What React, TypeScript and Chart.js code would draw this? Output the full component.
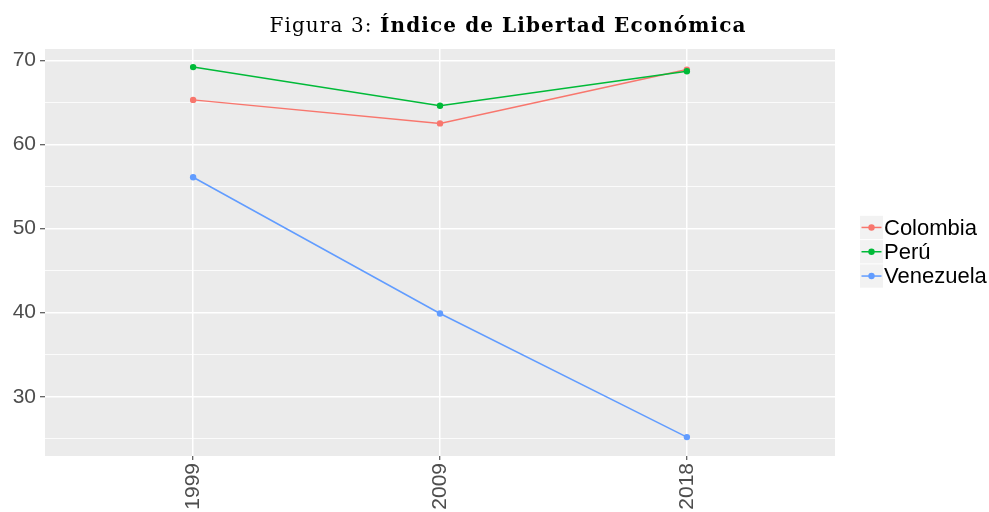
import React, { useEffect, useRef } from 'react';
import { Chart, registerables } from 'chart.js';

Chart.register(...registerables);

const years = ['1999', '2009', '2018'];
const seriesNames = ['Colombia', 'Perú', 'Venezuela'];
const colombia = [65.3, 62.5, 68.9];
const peru = [69.2, 64.6, 68.7];
const venezuela = [56.1, 39.9, 25.2];
const seriesColors = ['#F8766D', '#00BA38', '#619CFF'];
const yTicks = [25, 30, 35, 40, 45, 50, 55, 60, 65, 70];
const titlePrefix = 'Figura 3: ';
const titleMain = 'Índice de Libertad Económica';

const W = 989;
const H = 512;

const panelBg = {
  id: 'panelBg',
  beforeDraw(chart: any) {
    const { ctx, chartArea } = chart;
    ctx.save();
    ctx.fillStyle = '#ebebeb';
    ctx.fillRect(chartArea.left, chartArea.top, chartArea.right - chartArea.left, chartArea.bottom - chartArea.top);
    ctx.restore();
  },
};

const titlePlugin = {
  id: 'mixedTitle',
  afterDraw(chart: any) {
    const ctx = chart.ctx;
    ctx.save();
    const size = 20;
    (ctx as any).letterSpacing = '1.1px';
    ctx.font = `${size}px "DejaVu Serif"`;
    const w1 = ctx.measureText(titlePrefix).width;
    ctx.font = `bold ${size}px "DejaVu Serif"`;
    const w2 = ctx.measureText(titleMain).width;
    const start = 508 - (w1 + w2) / 2;
    ctx.fillStyle = '#000';
    ctx.textBaseline = 'alphabetic';
    ctx.textAlign = 'left';
    ctx.font = `${size}px "DejaVu Serif"`;
    ctx.fillText(titlePrefix, start, 32);
    ctx.font = `bold ${size}px "DejaVu Serif"`;
    ctx.fillText(titleMain, start + w1, 32);
    ctx.restore();
  },
};

const legendPlugin = {
  id: 'ggLegend',
  afterDraw(chart: any) {
    const ctx = chart.ctx;
    ctx.save();
    const keyX = 860;
    const keyW = 23;
    const rowH = 24.3;
    const top0 = 215.8;
    seriesNames.forEach((name, i) => {
      const top = top0 + i * rowH;
      ctx.fillStyle = '#f2f2f2';
      ctx.fillRect(keyX, top, keyW, rowH - 1);
      const cy = top + (rowH - 1) / 2;
      ctx.strokeStyle = seriesColors[i];
      ctx.lineWidth = 1.5;
      ctx.beginPath();
      ctx.moveTo(keyX + 1.5, cy);
      ctx.lineTo(keyX + keyW - 1.5, cy);
      ctx.stroke();
      ctx.fillStyle = seriesColors[i];
      ctx.beginPath();
      ctx.arc(keyX + keyW / 2, cy, 3.2, 0, Math.PI * 2);
      ctx.fill();
      ctx.fillStyle = '#000';
      ctx.font = '22px "Liberation Sans"';
      ctx.textAlign = 'left';
      ctx.textBaseline = 'middle';
      ctx.fillText(name, 884, cy + 1);
    });
    ctx.restore();
  },
};

export default function App() {
  const ref = useRef<HTMLCanvasElement | null>(null);

  useEffect(() => {
    if (!ref.current) return;
    const values = [colombia, peru, venezuela];
    const chart = new Chart(ref.current, {
      type: 'line',
      data: {
        datasets: seriesNames.map((name, i) => ({
          label: name,
          data: values[i].map((v, j) => ({ x: j, y: v })),
          borderColor: seriesColors[i],
          backgroundColor: seriesColors[i],
          borderWidth: 1.5,
          pointRadius: 3.2,
          pointBorderWidth: 0,
          pointBackgroundColor: seriesColors[i],
          tension: 0,
          fill: false,
          order: 3 - i,
        })),
      },
      options: {
        animation: false,
        responsive: false,
        devicePixelRatio: 1,
        layout: { padding: { top: 49, right: 154, left: 0, bottom: 0 } },
        plugins: {
          legend: { display: false },
          title: { display: false },
          tooltip: { enabled: false },
        },
        scales: {
          x: {
            type: 'linear',
            min: -0.6,
            max: 2.6,
            afterBuildTicks: (scale: any) => {
              scale.ticks = years.map((_, i) => ({ value: i }));
            },
            afterFit: (scale: any) => {
              scale.height = 56;
            },
            border: { display: false },
            grid: {
              color: '#ffffff',
              lineWidth: 1.5,
              tickColor: '#333333',
              tickWidth: 1,
              tickLength: 4,
            },
            ticks: {
              autoSkip: false,
              minRotation: 90,
              maxRotation: 90,
              padding: 3,
              color: '#4d4d4d',
              font: { family: 'Liberation Sans', size: 21 },
              callback: (v: any) => years[v as number] ?? '',
            },
          },
          y: {
            type: 'linear',
            min: 22.95,
            max: 71.35,
            afterBuildTicks: (scale: any) => {
              scale.ticks = yTicks.map((v) => ({ value: v }));
            },
            afterFit: (scale: any) => {
              scale.width = 45;
            },
            border: { display: false },
            grid: {
              color: '#ffffff',
              lineWidth: (c: any) => (c.tick && c.tick.value % 10 === 0 ? 1.5 : 0.8),
              tickColor: (c: any) => (c.tick && c.tick.value % 10 === 0 ? '#333333' : 'rgba(0,0,0,0)'),
              tickWidth: 1,
              tickLength: 5,
            },
            ticks: {
              padding: 4,
              color: '#4d4d4d',
              font: { family: 'Liberation Sans', size: 21 },
              callback: (v: any) => ((v as number) % 10 === 0 ? String(v) : ''),
            },
          },
        },
      },
      plugins: [panelBg, titlePlugin, legendPlugin],
    } as any);
    return () => chart.destroy();
  }, []);

  return (
    <div style={{ position: 'fixed', left: 0, top: 0, width: W, height: H, background: '#fff' }}>
      <canvas ref={ref} width={W} height={H} style={{ width: W, height: H, display: 'block' }} />
    </div>
  );
}
